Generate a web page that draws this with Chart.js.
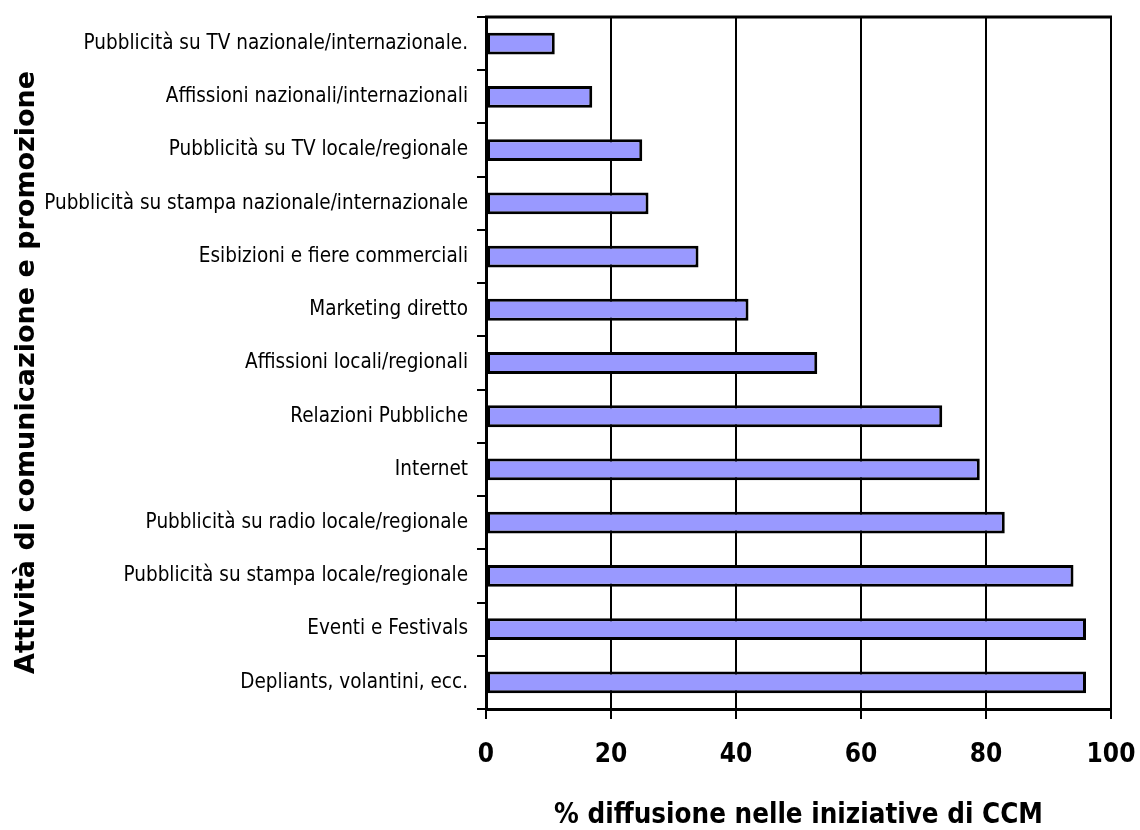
<!DOCTYPE html>
<html>
<head>
<meta charset="utf-8">
<script src="https://cdn.jsdelivr.net/npm/chart.js@4/dist/chart.umd.min.js"></script>
<style>
  html, body { margin: 0; padding: 0; background: #ffffff; }
  #wrap { width: 1140px; height: 830px; }
</style>
</head>
<body>
<div id="wrap"><canvas id="c" width="1140" height="830"></canvas></div>
<script>
// Communication and promotion activities, top to bottom
const categories = [
  'Pubblicità su TV nazionale/internazionale.',
  'Affissioni nazionali/internazionali',
  'Pubblicità su TV locale/regionale',
  'Pubblicità su stampa nazionale/internazionale',
  'Esibizioni e fiere commerciali',
  'Marketing diretto',
  'Affissioni locali/regionali',
  'Relazioni Pubbliche',
  'Internet',
  'Pubblicità su radio locale/regionale',
  'Pubblicità su stampa locale/regionale',
  'Eventi e Festivals',
  'Depliants, volantini, ecc.'
];
// % of CCM initiatives using each activity
const diffusion = [11, 17, 25, 26, 34, 42, 53, 73, 79, 83, 94, 96, 96];
const xTicks = [0, 20, 40, 60, 80, 100];
const xTitle = '% diffusione nelle iniziative di CCM';
// trailing spaces nudge the rotated title slightly lower
const yTitle = 'Attività di comunicazione e promozione  ';

const condensed = "'DejaVu Sans Condensed', 'Liberation Sans Narrow', sans-serif";

// frame line along the top of the plot area
const topFrame = {
  id: 'topFrame',
  afterDraw(chart) {
    const { ctx, chartArea: a } = chart;
    ctx.save();
    ctx.strokeStyle = '#000';
    ctx.lineWidth = 3;
    ctx.beginPath();
    ctx.moveTo(a.left - 1, a.top);
    ctx.lineTo(a.right + 1, a.top);
    ctx.stroke();
    ctx.restore();
  }
};

new Chart(document.getElementById('c'), {
  type: 'bar',
  data: {
    labels: categories,
    datasets: [{
      data: diffusion,
      backgroundColor: '#9999FF',
      borderColor: '#000000',
      borderWidth: 3,
      borderSkipped: false,
      categoryPercentage: 1,
      barPercentage: 0.41
    }]
  },
  options: {
    indexAxis: 'y',
    responsive: false,
    animation: false,
    layout: { padding: { top: 17, right: 29, left: 0, bottom: 0 } },
    plugins: { legend: { display: false }, tooltip: { enabled: false } },
    scales: {
      x: {
        min: 0, max: 100,
        afterBuildTicks(scale) { scale.ticks = xTicks.map(v => ({ value: v })); },
        afterFit(scale) {
          scale.height = 121;
          scale.paddingLeft = 0;
          scale.paddingRight = 0;
        },
        grid: { color: '#000', lineWidth: 2, tickLength: 10, drawTicks: true },
        border: { display: true, color: '#000', width: 3 },
        ticks: {
          color: '#000', padding: 21,
          font: { family: condensed, size: 26, weight: 'bold' }
        },
        title: {
          display: true, text: xTitle, color: '#000',
          padding: { top: 0, bottom: 0 },
          font: { family: condensed, size: 27.5, weight: 'bold', lineHeight: 1 }
        }
      },
      y: {
        afterFit(scale) {
          scale.width = 486;
          scale.paddingTop = 0;
          scale.paddingBottom = 0;
        },
        grid: { drawOnChartArea: false, color: '#000', lineWidth: 2, tickLength: 9, offset: true },
        border: { display: true, color: '#000', width: 3 },
        ticks: {
          color: '#000', padding: 9, autoSkip: false,
          font: { family: condensed, size: 20.5 }
        },
        title: {
          display: true, text: yTitle, color: '#000',
          padding: { top: 11, bottom: 0 },
          font: { family: "'DejaVu Sans', Verdana, sans-serif", size: 27, weight: 'bold', lineHeight: 1.2 }
        }
      }
    }
  },
  plugins: [topFrame]
});
</script>
</body>
</html>
